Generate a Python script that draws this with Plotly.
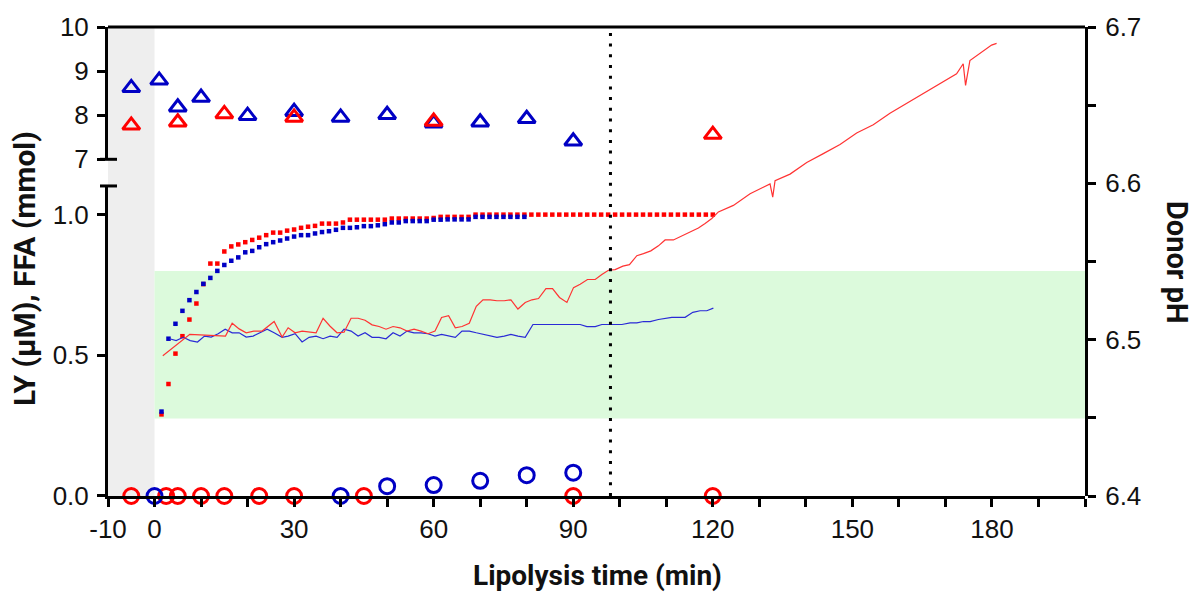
import plotly.graph_objects as go

# ---------------- data ----------------
# Triangles (upper left axis, mmol)
tri_blue_t = [-5, 1, 5, 10, 20, 30, 40, 50, 60, 70, 80, 90]
tri_blue_v = [8.62, 8.79, 8.18, 8.40, 7.99, 8.08, 7.95, 8.01, 7.82, 7.84, 7.92, 7.41]
tri_red_t = [-5, 5, 15, 30, 60, 120]
tri_red_v = [7.77, 7.84, 8.03, 7.95, 7.86, 7.56]

# Open circles (lower left axis, LY uM)
circ_red_t = [-5, 2.5, 5, 10, 15, 22.5, 30, 45, 90, 120]
circ_red_v = [0, 0, 0, 0, 0, 0, 0, 0, 0, 0]
circ_blue_t = [0, 40, 50, 60, 70, 80, 90]
circ_blue_v = [0, 0, 0.035, 0.039, 0.054, 0.074, 0.083]

# FFA (small squares, lower left axis)
ffa_red_t = [1.5, 3, 4.5, 6, 7.5, 9, 10.5, 12, 13.5, 15, 16.5, 18, 19.5, 21, 22.5, 24, 25.5, 27, 28.5, 30,
             31.5, 33, 34.5, 36, 37.5, 39, 40.5, 42, 43.5, 45, 46.5, 48, 49.5, 51, 52.5, 54, 55.5, 57, 58.5, 60,
             61.5, 63, 64.5, 66, 67.5, 69, 70.5, 72, 73.5, 75, 76.5, 78, 79.5, 81, 82.5, 84, 85.5, 87, 88.5, 90,
             91.5, 93, 94.5, 96, 97.5, 99, 100.5, 102, 103.5, 105, 106.5, 108, 109.5, 111, 112.5, 114, 115.5, 117, 118.5, 120]
ffa_red_v = [0.290, 0.398, 0.506, 0.568, 0.627, 0.684, 0.753, 0.826, 0.826, 0.869, 0.887, 0.894, 0.902, 0.910, 0.918, 0.927, 0.936, 0.936, 0.943, 0.947,
             0.953, 0.957, 0.960, 0.968, 0.968, 0.968, 0.972, 0.982, 0.982, 0.982, 0.982, 0.982, 0.982, 0.986, 0.986, 0.986, 0.986, 0.986, 0.986, 0.988,
             0.992, 0.992, 0.992, 0.992, 0.992, 1.0, 1.0, 1.0, 1.0, 1.0, 1.0, 1.0, 1.0, 1.0, 1.0, 1.0, 1.0, 1.0, 1.0, 1.0,
             1.0, 1.0, 1.0, 1.0, 1.0, 1.0, 1.0, 1.0, 1.0, 1.0, 1.0, 1.0, 1.0, 1.0, 1.0, 1.0, 1.0, 1.0, 1.0, 1.0]
ffa_blue_t = [1.5, 3, 4.5, 6, 7.5, 9, 10.5, 12, 13.5, 15, 16.5, 18, 19.5, 21, 22.5, 24, 25.5, 27, 28.5, 30,
              31.5, 33, 34.5, 36, 37.5, 39, 40.5, 42, 43.5, 45, 46.5, 48, 49.5, 51, 52.5, 54, 55.5, 57, 58.5, 60,
              61.5, 63, 64.5, 66, 67.5, 69, 70.5, 72, 73.5, 75, 76.5, 78, 79.5]
ffa_blue_v = [0.300, 0.559, 0.612, 0.658, 0.696, 0.725, 0.754, 0.775, 0.800, 0.821, 0.836, 0.848, 0.866, 0.871, 0.884, 0.895, 0.902, 0.908, 0.915, 0.922,
              0.927, 0.927, 0.933, 0.938, 0.941, 0.946, 0.953, 0.953, 0.955, 0.959, 0.959, 0.962, 0.966, 0.972, 0.972, 0.977, 0.977, 0.977, 0.977, 0.982,
              0.982, 0.983, 0.983, 0.983, 0.983, 0.992, 0.992, 0.992, 0.992, 0.992, 0.992, 0.992, 0.992]

# Donor pH (right axis)
ph_red_t = [1.78, 7.58, 15.25, 16.69, 18.19, 19.70, 21.33, 23.13, 25.71, 27.43, 28.72, 30.22, 31.72, 34.73, 36.23, 37.74,
            39.24, 40.74, 42.25, 43.75, 45.25, 46.76, 48.26, 49.76, 51.27, 52.77, 54.27, 55.78, 57.28, 58.78, 60.29, 61.70,
            63.21, 64.65, 66.09, 67.65, 69.16, 70.60, 72.16, 73.60, 75.17, 76.61, 78.11, 79.68, 81.12, 82.54, 84.13, 85.55,
            87.05, 88.64, 90.06, 91.49, 93.06, 94.72, 96.15, 97.57, 99.01, 100.67, 102.08, 103.67, 105.09, 106.68, 108.31,
            109.75, 111.53, 112.61, 114.05, 115.48, 116.90, 118.34, 119.78, 121.20, 122.64, 124.42, 128.01, 132.30, 132.88,
            133.38, 136.60, 140.19, 143.75, 147.34, 150.92, 154.49, 158.08, 161.66, 165.23, 168.81, 172.40, 173.82, 174.33,
            175.26, 176.70, 178.85, 179.92, 181.0]
ph_red_v = [6.4897, 6.5034, 6.5023, 6.5105, 6.5069, 6.5044, 6.5055, 6.5055, 6.5116, 6.5017, 6.5076, 6.5044, 6.5055, 6.5044, 6.5137, 6.5086,
            6.5044, 6.5048, 6.5137, 6.5137, 6.5124, 6.5095, 6.5084, 6.5067, 6.5084, 6.5076, 6.5055, 6.5067, 6.5055, 6.5038, 6.5055, 6.5142,
            6.5154, 6.5076, 6.5084, 6.5105, 6.5213, 6.5255, 6.5255, 6.5249, 6.5249, 6.5255, 6.5196, 6.5238, 6.5255, 6.5263, 6.5326, 6.5326,
            6.5270, 6.5238, 6.5333, 6.5354, 6.5385, 6.5385, 6.5417, 6.5444, 6.5448, 6.5470, 6.5480, 6.5537, 6.5550, 6.5568, 6.5600,
            6.5638, 6.5638, 6.5653, 6.5670, 6.5691, 6.5714, 6.5743, 6.5775, 6.5817, 6.5838, 6.5859, 6.5933, 6.5996, 6.5912,
            6.6017, 6.6059, 6.6133, 6.6190, 6.6248, 6.6322, 6.6375, 6.6449, 6.6512, 6.6575, 6.6638, 6.6701, 6.6765, 6.6627,
            6.6785, 6.6817, 6.6859, 6.6884, 6.6895]
ph_blue_t = [3.22, 4.66, 6.16, 7.67, 9.24, 10.74, 12.18, 13.68, 15.18, 16.69, 18.19, 19.70, 21.20, 22.70, 24.21, 25.71, 27.43,
             28.72, 30.22, 31.72, 33.23, 34.73, 36.23, 37.74, 39.24, 40.74, 42.25, 43.75, 45.25, 46.76, 48.26, 49.76, 51.27,
             52.77, 54.27, 55.78, 57.28, 58.78, 60.29, 61.70, 63.21, 64.65, 66.09, 67.65, 69.16, 70.60, 72.16, 73.60, 75.17,
             76.61, 78.11, 79.68, 81.34, 91.49, 92.93, 94.72, 96.15, 100.45, 102.23, 103.67, 105.09, 106.53, 108.31, 109.75,
             111.19, 114.05, 115.70, 117.27, 118.71, 120.12]
ph_blue_v = [6.5006, 6.4994, 6.5015, 6.4994, 6.4985, 6.5023, 6.5017, 6.5038, 6.5067, 6.5044, 6.5044, 6.5017, 6.5023, 6.5044, 6.5067, 6.5044, 6.5015,
             6.5023, 6.5038, 6.4985, 6.5015, 6.5023, 6.5006, 6.5023, 6.5015, 6.5067, 6.5055, 6.5023, 6.5044, 6.5015, 6.5015, 6.5006, 6.5044,
             6.5023, 6.5055, 6.5044, 6.5044, 6.5038, 6.5023, 6.5034, 6.5023, 6.5015, 6.5055, 6.5055, 6.5044, 6.5034, 6.5023, 6.5015, 6.5023,
             6.5034, 6.5023, 6.5015, 6.5097, 6.5097, 6.5084, 6.5084, 6.5097, 6.5097, 6.5107, 6.5107, 6.5116, 6.5116, 6.5129, 6.5137,
             6.5143, 6.5143, 6.5175, 6.5185, 6.5185, 6.5202]

x_tick_vals = [-10, 0, 30, 60, 90, 120, 150, 180]
x_tick_text = ["-10", "0", "30", "60", "90", "120", "150", "180"]
divider_t = 98
pre_period = [-10, 0]
green_band = [0.275, 0.8]

# ---------------- figure ----------------
BLUE = "#0000c4"
RED = "#ff0000"
TICKFONT = dict(family="Liberation Sans, Arial, sans-serif", size=26, color="#111111")
XTITLEFONT = dict(family="Roboto, Liberation Sans, sans-serif", size=28, color="#111111")
YTITLEFONT = dict(family="Roboto, Liberation Sans, sans-serif", size=30, color="#111111")
RTITLEFONT = dict(family="Roboto, Liberation Sans, sans-serif", size=29, color="#111111")

fig = go.Figure()

fig.add_trace(go.Scatter(x=ph_blue_t, y=ph_blue_v, mode="lines", yaxis="y3",
                         line=dict(color="#2a2ad6", width=1.2), showlegend=False))
fig.add_trace(go.Scatter(x=ph_red_t, y=ph_red_v, mode="lines", yaxis="y3",
                         line=dict(color="#ff3333", width=1.2), showlegend=False))

fig.add_trace(go.Scatter(x=ffa_red_t, y=ffa_red_v, mode="markers", yaxis="y",
                         marker=dict(symbol="square", size=4.5, color=RED, line=dict(width=0)), showlegend=False))
fig.add_trace(go.Scatter(x=ffa_blue_t, y=ffa_blue_v, mode="markers", yaxis="y",
                         marker=dict(symbol="square", size=4.5, color=BLUE, line=dict(width=0)), showlegend=False))

fig.add_trace(go.Scatter(x=circ_red_t, y=circ_red_v, mode="markers", yaxis="y", cliponaxis=False,
                         marker=dict(symbol="circle-open", size=15, color=RED, line=dict(width=3, color=RED)), showlegend=False))
fig.add_trace(go.Scatter(x=circ_blue_t, y=circ_blue_v, mode="markers", yaxis="y", cliponaxis=False,
                         marker=dict(symbol="circle-open", size=15, color=BLUE, line=dict(width=3, color=BLUE)), showlegend=False))

fig.add_trace(go.Scatter(x=tri_blue_t, y=tri_blue_v, mode="markers", yaxis="y2", cliponaxis=False,
                         marker=dict(symbol="triangle-up-open", size=15, color=BLUE, line=dict(width=3, color=BLUE)), showlegend=False))
fig.add_trace(go.Scatter(x=tri_red_t, y=tri_red_v, mode="markers", yaxis="y2", cliponaxis=False,
                         marker=dict(symbol="triangle-up-open", size=15, color=RED, line=dict(width=3, color=RED)), showlegend=False))

# plot geometry (pixels)
L, R, T, B = 108, 112, 21, 98
W, H = 1197, 594
ph = H - T - B  # 475
low_top = (496 - 182) / ph
up_bot = (496 - 155) / ph

axis_common = dict(showgrid=False, zeroline=False, showline=True, linecolor="black", linewidth=3,
                   ticks="outside", ticklen=8, tickwidth=3, tickcolor="black", tickfont=TICKFONT)

fig.update_layout(
    width=W, height=H,
    margin=dict(l=L, r=R, t=T, b=B),
    paper_bgcolor="white", plot_bgcolor="rgba(0,0,0,0)",
    xaxis=dict(range=[-10, 200], tickmode="array", tickvals=x_tick_vals, ticktext=x_tick_text,
               anchor="y", ticklabelstandoff=0,
               minor=dict(dtick=10, tick0=0, ticks="outside", ticklen=8, tickwidth=3, tickcolor="black"),
               **axis_common),
    yaxis=dict(domain=[0, low_top], range=[0, 1.1018], tickmode="array", tickvals=[0, 0.5, 1.0],
               ticktext=["0.0", "0.5", "1.0"], anchor="x", ticklabelstandoff=3, **axis_common),
    yaxis2=dict(domain=[up_bot, 1], range=[7, 10], tickmode="array", tickvals=[7, 8, 9, 10],
                anchor="x", ticklabelstandoff=3, **axis_common),
    yaxis3=dict(domain=[0, 1], range=[6.4, 6.7], tickmode="array", tickvals=[6.4, 6.5, 6.6, 6.7],
                ticktext=["6.4", "6.5", "6.6", "6.7"], anchor="x", side="right", ticklabelstandoff=4,
                minor=dict(dtick=0.05, tick0=6.4, ticks="outside", ticklen=8, tickwidth=3, tickcolor="black"),
                **axis_common),
    showlegend=False,
)

# shaded regions
fig.add_shape(type="rect", xref="x", yref="paper", x0=pre_period[0], x1=pre_period[1], y0=0, y1=1,
              fillcolor="#eeeeee", line=dict(width=0), layer="below")
fig.add_shape(type="rect", xref="x", yref="y", x0=pre_period[1], x1=200, y0=green_band[0], y1=green_band[1],
              fillcolor="#dcfadc", line=dict(width=0), layer="below")
# divider
fig.add_shape(type="line", xref="x", yref="paper", x0=divider_t, x1=divider_t, y0=0, y1=1,
              line=dict(color="black", width=3, dash="3px,7.7px"))
# top frame line
fig.add_shape(type="line", xref="paper", yref="paper", x0=0, x1=1, y0=1, y1=1,
              line=dict(color="black", width=3))
# axis-break marks
bx0, bx1 = -8 / 977, 9 / 977
fig.add_shape(type="line", xref="paper", yref="paper", x0=bx0, x1=bx1, y0=up_bot, y1=up_bot,
              line=dict(color="black", width=3))
fig.add_shape(type="line", xref="paper", yref="paper", x0=bx0, x1=bx1, y0=low_top, y1=low_top,
              line=dict(color="black", width=3))

# axis titles
fig.add_annotation(text="<b>LY (μM), FFA (mmol)</b>", xref="paper", yref="paper",
                   x=(25 - L) / 977, y=(496 - 266) / ph, textangle=-90, showarrow=False,
                   xanchor="center", yanchor="middle", font=YTITLEFONT)
fig.add_annotation(text="<b>Donor pH</b>", xref="paper", yref="paper",
                   x=(1177 - L) / 977, y=(496 - 259) / ph, textangle=90, showarrow=False,
                   xanchor="center", yanchor="middle", font=RTITLEFONT)
fig.add_annotation(text="<b>Lipolysis time (min)</b>", xref="paper", yref="paper",
                   x=(597 - L) / 977, y=(496 - 577) / ph, showarrow=False,
                   xanchor="center", yanchor="middle", font=XTITLEFONT)

fig.write_html("out.html", config={"displayModeBar": False},
               post_script="document.body.style.margin='0';document.body.style.overflow='hidden';")
